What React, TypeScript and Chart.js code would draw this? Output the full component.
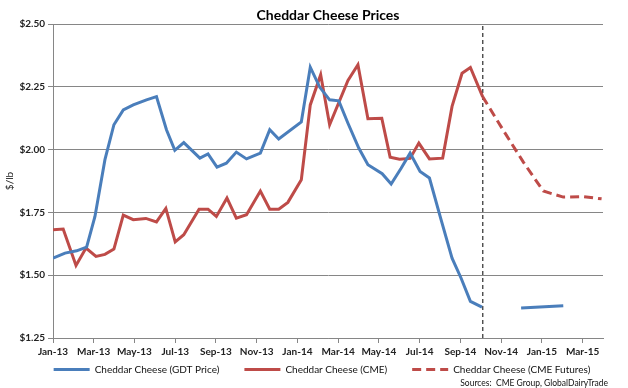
import React, { useEffect, useRef } from 'react';
import { Chart, registerables } from 'chart.js';

Chart.register(...registerables);

// x values are months since Jan-2013 (0 = Jan-13)
const TICK_MONTHS = [0, 2, 4, 6, 8, 10, 12, 14, 16, 18, 20, 22, 24, 26];
const TICK_LABELS = ['Jan-13', 'Mar-13', 'May-13', 'Jul-13', 'Sep-13', 'Nov-13', 'Jan-14', 'Mar-14', 'May-14', 'Jul-14', 'Sep-14', 'Nov-14', 'Jan-15', 'Mar-15'];
const Y_TICKS = [1.25, 1.5, 1.75, 2.0, 2.25, 2.5];

const GDT_X = [0.0, 0.59, 1.16, 1.65, 2.06, 2.55, 2.99, 3.45, 3.94, 4.59, 5.08, 5.57, 5.98, 6.42, 7.21, 7.61, 8.05, 8.51, 9.0, 9.5, 10.18, 10.64, 11.08, 12.19, 12.63, 13.09, 13.58, 14.03, 14.48, 15.01, 15.46, 16.16, 16.6, 17.09, 17.53, 18.02, 18.48, 19.05, 19.59, 20.03, 20.49, 21.06];
const GDT_Y = [1.568, 1.588, 1.597, 1.612, 1.734, 1.96, 2.099, 2.158, 2.178, 2.198, 2.211, 2.079, 1.997, 2.028, 1.966, 1.983, 1.93, 1.946, 1.99, 1.963, 1.986, 2.079, 2.042, 2.11, 2.328, 2.249, 2.198, 2.194, 2.105, 2.006, 1.94, 1.904, 1.863, 1.926, 1.986, 1.913, 1.887, 1.721, 1.568, 1.489, 1.396, 1.373];
const GDT_LATE_X = [22.98, 25.05];
const GDT_LATE_Y = [1.369, 1.378];

const CME_X = [0.0, 0.5, 1.13, 1.62, 2.11, 2.55, 2.99, 3.45, 3.94, 4.56, 5.08, 5.54, 6.0, 6.42, 7.17, 7.61, 8.02, 8.54, 9.0, 9.5, 10.18, 10.64, 11.08, 11.53, 12.19, 12.63, 13.14, 13.58, 14.48, 14.97, 15.46, 16.14, 16.55, 17.01, 17.53, 17.96, 18.48, 19.13, 19.59, 20.08, 20.49, 21.09];
const CME_Y = [1.681, 1.684, 1.539, 1.608, 1.575, 1.583, 1.604, 1.739, 1.721, 1.726, 1.712, 1.766, 1.633, 1.661, 1.763, 1.763, 1.734, 1.807, 1.727, 1.741, 1.835, 1.763, 1.763, 1.79, 1.88, 2.178, 2.298, 2.099, 2.275, 2.338, 2.123, 2.125, 1.97, 1.962, 1.965, 2.026, 1.963, 1.966, 2.172, 2.304, 2.327, 2.211];

const FUT_X = [21.09, 22.08, 23.09, 24.07, 25.05, 26.03, 26.93];
const FUT_Y = [2.211, 2.08, 1.95, 1.835, 1.811, 1.813, 1.804];

const SPLIT_X = 21.1;

const BLUE = '#4A7EBB';
const RED = '#BE4B48';
const GRID = '#868686';
const FONT = 'Lato, "Open Sans", sans-serif';

const pts = (xs: number[], ys: number[]) => xs.map((x, i) => ({ x, y: ys[i] }));

const customLegend = {
  id: 'customLegend',
  afterDraw(chart: any) {
    const ctx = chart.ctx as CanvasRenderingContext2D;
    const items = chart.data.datasets.filter((d: any) => d.label);
    ctx.save();
    ctx.font = `10px ${FONT}`;
    const sample = 36, gapText = 5, gapItem = 25;
    const widths = items.map((d: any) => sample + gapText + ctx.measureText(d.label).width);
    const total = widths.reduce((a: number, b: number) => a + b, 0) + gapItem * (items.length - 1);
    let x = 322 - total / 2;
    const y = 369.5;
    items.forEach((d: any, i: number) => {
      ctx.beginPath();
      ctx.strokeStyle = d.borderColor;
      ctx.lineWidth = 3;
      ctx.setLineDash(d.borderDash || []);
      ctx.moveTo(x, y);
      ctx.lineTo(x + sample, y);
      ctx.stroke();
      ctx.setLineDash([]);
      ctx.fillStyle = '#111';
      ctx.textBaseline = 'middle';
      ctx.textAlign = 'left';
      ctx.fillText(d.label, x + sample + gapText, y);
      x += widths[i] + gapItem;
    });
    ctx.font = `8.5px ${FONT}`;
    ctx.textAlign = 'right';
    ctx.fillText('Sources:  CME Group, GlobalDairyTrade', 608, 383.5);
    ctx.restore();
  },
};

export default function App() {
  const ref = useRef<HTMLCanvasElement | null>(null);
  useEffect(() => {
    document.body.style.margin = '0';
    if (!ref.current) return;
    const chart = new Chart(ref.current, {
      type: 'line',
      data: {
        datasets: [
          {
            label: 'Cheddar Cheese (GDT Price)',
            data: [...pts(GDT_X, GDT_Y), { x: 22, y: null as any }, ...pts(GDT_LATE_X, GDT_LATE_Y)],
            borderColor: BLUE,
            borderWidth: 3,
            pointRadius: 0,
            tension: 0,
            spanGaps: false,
          },
          {
            label: 'Cheddar Cheese (CME)',
            data: pts(CME_X, CME_Y),
            borderColor: RED,
            borderWidth: 3,
            pointRadius: 0,
            tension: 0,
          },
          {
            label: 'Cheddar Cheese (CME Futures)',
            data: pts(FUT_X, FUT_Y),
            borderColor: RED,
            borderWidth: 3,
            borderDash: [9, 5],
            pointRadius: 0,
            tension: 0,
          },
          {
            label: '',
            data: [{ x: SPLIT_X, y: Y_TICKS[0] }, { x: SPLIT_X, y: Y_TICKS[Y_TICKS.length - 1] }],
            borderColor: '#000',
            borderWidth: 1,
            borderDash: [4, 3],
            pointRadius: 0,
          },
        ],
      },
      options: {
        animation: false,
        responsive: false,
        layout: { padding: { left: 0, right: 25, top: 0, bottom: 0 } },
        plugins: {
          legend: { display: false },
          tooltip: { enabled: false },
          title: {
            display: true,
            text: 'Cheddar Cheese Prices',
            fullSize: false,
            color: '#000',
            font: { family: FONT, size: 14, weight: 'bold', lineHeight: 1.2 },
            padding: { top: 7.2, bottom: 0 },
          },
        },
        scales: {
          x: {
            type: 'linear',
            min: 0,
            max: 27,
            afterFit: (s: any) => { s.height = 50; },
            afterBuildTicks: (s: any) => { s.ticks = TICK_MONTHS.map((v) => ({ value: v })); },
            ticks: {
              autoSkip: false,
              maxRotation: 0,
              padding: 3,
              color: '#222',
              font: { family: FONT, size: 10, weight: 'bold' },
              callback: (v: any) => {
                const i = TICK_MONTHS.indexOf(Number(v));
                return i >= 0 ? TICK_LABELS[i] : '';
              },
            },
            grid: { drawOnChartArea: false, drawTicks: true, tickLength: 5, color: GRID },
            border: { display: true, color: GRID, width: 1 },
          },
          y: {
            min: 1.25,
            max: 2.5,
            afterFit: (s: any) => { s.width = 53; },
            afterBuildTicks: (s: any) => { s.ticks = Y_TICKS.map((v) => ({ value: v })); },
            ticks: {
              padding: 3,
              color: '#222',
              font: { family: FONT, size: 10, weight: 'bold' },
              callback: (v: any) => '$' + Number(v).toFixed(2),
            },
            grid: { color: GRID, tickLength: 5, lineWidth: 1 },
            border: { display: true, color: GRID, width: 1 },
            title: {
              display: true,
              text: '$/lb',
              color: '#222',
              font: { family: FONT, size: 10 },
              padding: { top: 4, bottom: 0 },
            },
          },
        },
      },
      plugins: [customLegend],
    });
    return () => chart.destroy();
  }, []);
  return (
    <div style={{ width: 628, height: 388, background: '#fff' }}>
      <canvas ref={ref} width={628} height={388} />
    </div>
  );
}
